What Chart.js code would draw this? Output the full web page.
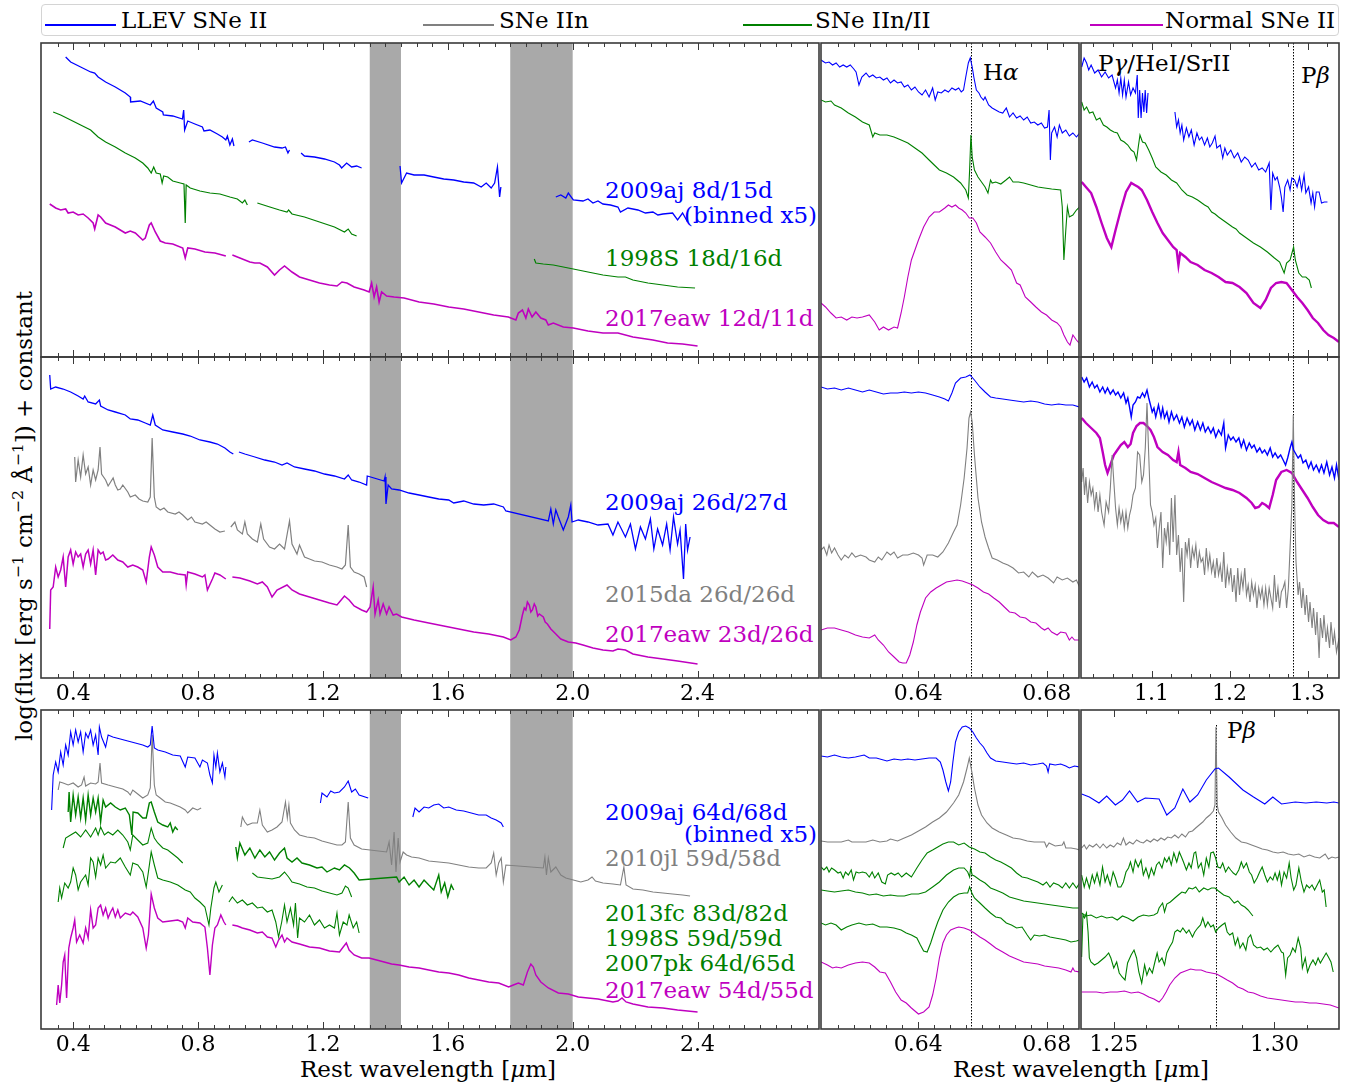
<!DOCTYPE html>
<html>
<head>
<meta charset="utf-8">
<title>Spectral comparison of LLEV SNe II</title>
<script src="https://cdn.jsdelivr.net/npm/chart.js@4.4.1/dist/chart.umd.min.js"></script>
<style>
  html, body { margin: 0; padding: 0; background: #fff; }
  body { position: relative; width: 1347px; height: 1084px; overflow: hidden;
         font-family: 'DejaVu Serif', serif; color: #000; }
  canvas { position: absolute; }
  .t { position: absolute; font-size: 23px; line-height: 1; white-space: nowrap; }
  .t sup { font-size: 0.68em; vertical-align: 0.55em; line-height: 0; }
  #legend { position: absolute; left: 41px; top: 4px; width: 1298px; height: 32px;
            border: 1px solid #d4d4d4; border-radius: 4px; box-sizing: border-box; }
  .lline { position: absolute; height: 2px; top: 19px; }
</style>
</head>
<body>
<div id="legend"></div>
<div class="t" style="left:24px;top:516px;transform:translate(-50%,-50%) rotate(-90deg);">log(flux [erg s<sup>−1</sup> cm<sup>−2</sup> Å<sup>−1</sup>]) + constant</div>
<div class="t" style="left:428px;top:1058px;transform:translateX(-50%);">Rest wavelength [<i>μ</i>m]</div>
<div class="t" style="left:1081px;top:1058px;transform:translateX(-50%);">Rest wavelength [<i>μ</i>m]</div>

<div class="t" style="left:983px;top:61px;">H<i>α</i></div>
<div class="t" style="left:1098px;top:52px;">P<i>γ</i>/HeI/SrII</div>
<div class="t" style="left:1301px;top:64px;">P<i>β</i></div>
<div class="t" style="left:1227px;top:719px;">P<i>β</i></div>

<div class="t" style="left:605px;top:179px;color:#0000ff;">2009aj 8d/15d</div>
<div class="t" style="right:530px;top:204px;color:#0000ff;">(binned x5)</div>
<div class="t" style="left:605px;top:247px;color:#008000;">1998S 18d/16d</div>
<div class="t" style="left:605px;top:307px;color:#bf00bf;">2017eaw 12d/11d</div>

<div class="t" style="left:605px;top:491px;color:#0000ff;">2009aj 26d/27d</div>
<div class="t" style="left:605px;top:583px;color:#808080;">2015da 26d/26d</div>
<div class="t" style="left:605px;top:623px;color:#bf00bf;">2017eaw 23d/26d</div>

<div class="t" style="left:605px;top:801px;color:#0000ff;">2009aj 64d/68d</div>
<div class="t" style="right:530px;top:823px;color:#0000ff;">(binned x5)</div>
<div class="t" style="left:605px;top:847px;color:#808080;">2010jl 59d/58d</div>
<div class="t" style="left:605px;top:902px;color:#008000;">2013fc 83d/82d</div>
<div class="t" style="left:605px;top:927px;color:#008000;">1998S 59d/59d</div>
<div class="t" style="left:605px;top:952px;color:#008000;">2007pk 64d/65d</div>
<div class="t" style="left:605px;top:979px;color:#bf00bf;">2017eaw 54d/55d</div>

<script>
// ---- colours / legend ------------------------------------------------------
const BLUE = '#0000ff', GRAY = '#808080', GREEN = '#008000', MAG = '#bf00bf';
const legendLabels = ['LLEV SNe II', 'SNe IIn', 'SNe IIn/II', 'Normal SNe II'];
const legendColors = [BLUE, GRAY, GREEN, MAG];

// ---- axis ticks --------------------------------------------------------------
const optMajor = [0.4, 0.8, 1.2, 1.6, 2.0, 2.4];
const optLabels = ['0.4', '0.8', '1.2', '1.6', '2.0', '2.4'];
const haMajor = [0.64, 0.68];
const haLabels = ['0.64', '0.68'];
const irMajor = [1.1, 1.2, 1.3];
const irLabels = ['1.1', '1.2', '1.3'];
const pbMajor = [1.25, 1.30];
const pbLabels = ['1.25', '1.30'];
const telluricBands = [[1.35, 1.45], [1.8, 2.0]];
const H_ALPHA = 0.6563, P_BETA = 1.2818;

// ---- row 1: 2009aj 8d, 1998S 18d, 2017eaw 12d ------------------------------
const r1L_aj = [[0.376,300],[0.392,295],[0.424,290],[0.456,285],[0.469,284],[0.48,280],[0.504,275],[0.535,270],[0.567,264],[0.583,260],[0.584,255],[0.615,256],[0.647,252],[0.657,256],[0.666,249],[0.687,245],[0.689,242],[0.719,241],[0.75,238],[0.754,247],[0.757,227],[0.767,236],[0.79,233],[0.814,230],[0.819,226],[0.838,227],[0.862,223],[0.878,220],[0.889,217],[0.894,221],[0.902,212],[0.91,218],[0.915,211],
  [0.94,null],[0.963,215],[0.974,217],[1.006,214],[1.045,210],[1.069,209],[1.08,210],[1.088,204],[1.093,207],
  [1.11,null],[1.13,204],[1.141,201],[1.173,200],[1.205,198],[1.237,195],[1.253,192],[1.26,189],[1.276,194],[1.292,190],[1.308,191],[1.324,189],
  [1.38,null],[1.447,191],[1.452,174],[1.468,184],[1.492,182],[1.524,182],[1.555,180],[1.587,178],[1.619,177],[1.651,175],[1.683,174],[1.707,170],[1.723,174],[1.739,169],[1.75,174],[1.759,190],[1.766,160],[1.77,170],
  [1.85,null],[1.946,160],[1.962,162],[1.978,159],[1.986,164],[2.002,157],[2.033,156],[2.049,158],[2.065,154],[2.081,156],[2.097,153],[2.121,152],[2.145,150],[2.153,145],[2.177,149],[2.209,147],[2.233,144],[2.257,145],[2.273,142],[2.289,143],[2.32,144],[2.336,137],[2.352,144],[2.368,135]];
const r1L_98S = [[0.336,245],[0.36,242],[0.392,237],[0.424,232],[0.456,227],[0.48,220],[0.504,215],[0.535,210],[0.567,204],[0.599,199],[0.623,194],[0.639,189],[0.65,184],[0.658,190],[0.666,184],[0.679,183],[0.685,174],[0.69,181],[0.703,180],[0.719,176],[0.743,174],[0.755,173],[0.759,134],[0.762,172],[0.775,169],[0.806,166],[0.838,164],[0.87,163],[0.902,160],[0.926,158],[0.942,154],[0.95,157],[0.958,152],
  [0.975,null],[0.99,154],[1.03,150],[1.061,147],[1.085,145],[1.09,147],[1.101,143],[1.141,140],[1.189,135],[1.237,130],[1.269,125],[1.281,128],[1.292,123],[1.308,121],
  [1.6,null],[1.877,98],[1.882,94],[1.906,93],[1.938,92],[1.97,90],[2.002,88],[2.049,85],[2.097,82],[2.145,80],[2.169,80],[2.193,77],[2.241,74],[2.289,72],[2.336,70],[2.392,69]];
const r1L_eaw = [[0.325,153],[0.344,149],[0.36,147],[0.376,148],[0.384,144],[0.4,145],[0.416,142],[0.432,143],[0.448,139],[0.464,134],[0.469,128],[0.48,142],[0.488,140],[0.504,134],[0.535,130],[0.567,124],[0.583,126],[0.599,124],[0.623,117],[0.631,119],[0.644,132],[0.65,134],[0.663,125],[0.679,116],[0.695,114],[0.719,113],[0.751,109],[0.759,99],[0.767,109],[0.79,108],[0.822,105],[0.854,104],[0.889,101],
  [0.9,null],[0.91,102],[0.934,99],[0.966,95],[0.982,94],[0.998,94],[1.022,90],[1.045,82],[1.061,87],[1.077,91],[1.101,85],[1.125,80],[1.157,77],[1.189,74],[1.221,72],[1.245,71],[1.261,75],[1.277,74],[1.3,70],[1.332,67],[1.348,65],[1.356,74],[1.364,60],[1.372,70],[1.38,55],[1.388,65],[1.404,61],[1.428,60],[1.46,59],[1.508,55],[1.555,53],[1.603,50],[1.651,48],[1.699,45],[1.747,42],[1.794,40],[1.818,37],[1.826,44],[1.839,47],[1.85,39],[1.858,48],[1.87,40],[1.882,45],[1.898,39],[1.914,37],[1.922,32],[1.938,34],[1.97,30],[2.002,29],[2.049,26],[2.097,24],[2.145,24],[2.193,20],[2.257,17],[2.304,14],[2.352,13],[2.4,11]];

const r1M_aj = [[0.6098,297],[0.6112,294],[0.6123,295],[0.6134,292],[0.6145,294],[0.6156,290],[0.6167,292],[0.6178,290],[0.6189,292],[0.62,288],[0.6207,285],[0.6216,272],[0.6225,280],[0.6238,284],[0.6248,280],[0.6259,282],[0.627,279],[0.6281,280],[0.6292,277],[0.6303,279],[0.6314,274],[0.6325,277],[0.6336,274],[0.6347,275],[0.6357,270],[0.6368,272],[0.6379,267],[0.639,270],[0.6401,265],[0.6412,262],[0.6423,267],[0.6434,260],[0.6445,269],[0.6453,257],[0.6461,265],[0.6472,264],[0.6483,267],[0.6494,265],[0.6505,269],[0.6516,267],[0.6526,269],[0.6534,265],[0.6541,267],[0.6548,280],[0.6556,294],[0.6562,299],[0.6568,290],[0.6573,280],[0.6581,267],[0.6589,264],[0.6595,260],[0.6603,257],[0.6608,260],[0.6619,252],[0.663,249],[0.6641,247],[0.6652,245],[0.6663,244],[0.6674,249],[0.6684,240],[0.6695,244],[0.6706,239],[0.6717,241],[0.6728,237],[0.6739,240],[0.675,234],[0.6761,235],[0.6772,232],[0.6783,234],[0.6793,229],[0.6802,230],[0.6807,247],[0.6811,197],[0.6815,224],[0.6824,230],[0.6832,220],[0.6839,232],[0.6848,224],[0.6859,227],[0.687,221],[0.6881,224],[0.6892,220],[0.6902,224]];
const r1M_98S = [[0.6098,257],[0.6112,255],[0.6129,256],[0.614,252],[0.6161,249],[0.6183,244],[0.6205,240],[0.6227,235],[0.6248,232],[0.6259,220],[0.6265,224],[0.6281,222],[0.6303,222],[0.6325,220],[0.6347,217],[0.6368,214],[0.639,209],[0.6412,204],[0.6434,197],[0.645,192],[0.6466,187],[0.6488,184],[0.651,180],[0.6532,174],[0.6548,167],[0.6556,159],[0.656,187],[0.6564,222],[0.6568,200],[0.6575,187],[0.6586,180],[0.6597,175],[0.6608,170],[0.6617,164],[0.6625,177],[0.663,174],[0.6641,175],[0.6657,173],[0.6673,177],[0.6684,180],[0.6695,175],[0.6712,175],[0.6728,174],[0.675,172],[0.6772,170],[0.6793,169],[0.6815,168],[0.6843,167],[0.6848,150],[0.6853,97],[0.6859,127],[0.6864,150],[0.687,140],[0.6881,142],[0.6892,147],[0.6902,150]];
const r1M_eaw = [[0.6098,54],[0.6112,50],[0.6129,44],[0.6145,39],[0.6161,40],[0.6178,37],[0.6194,40],[0.621,39],[0.6227,40],[0.6248,42],[0.6265,35],[0.6279,27],[0.6292,30],[0.6308,27],[0.6325,30],[0.6336,29],[0.6347,44],[0.6357,60],[0.6368,80],[0.6379,97],[0.639,107],[0.6401,117],[0.6417,130],[0.6434,140],[0.645,145],[0.6466,145],[0.6483,149],[0.6494,152],[0.6505,150],[0.6516,152],[0.6526,149],[0.6537,147],[0.6548,144],[0.6559,139],[0.657,139],[0.6581,134],[0.6592,125],[0.6608,120],[0.6625,114],[0.6641,105],[0.6657,97],[0.6674,92],[0.669,87],[0.6706,74],[0.6717,72],[0.6733,60],[0.675,55],[0.6766,50],[0.6783,45],[0.6799,42],[0.6815,37],[0.6832,34],[0.6843,30],[0.6853,22],[0.6864,15],[0.6872,12],[0.6881,22],[0.6892,17],[0.69,14]];

const r1R_aj = [[1.0105,290],[1.0136,299],[1.0168,294],[1.0195,287],[1.0226,292],[1.0271,284],[1.0315,287],[1.036,280],[1.0405,285],[1.045,279],[1.0494,282],[1.0539,269],[1.0562,277],[1.0584,264],[1.0606,279],[1.0629,262],[1.0651,277],[1.0673,260],[1.0705,275],[1.0732,262],[1.0763,269],[1.0794,264],[1.0817,282],[1.083,239],[1.0848,267],[1.0866,239],[1.0884,264],[1.0902,245],[1.0919,267],[1.0937,244],[1.0955,264],
  [1.11,null],[1.13,245],[1.1322,230],[1.1345,237],[1.1367,224],[1.1389,232],[1.1412,217],[1.1447,229],[1.1479,220],[1.151,227],[1.1546,212],[1.1582,224],[1.1613,217],[1.1644,220],[1.168,212],[1.1716,219],[1.1747,210],[1.1779,214],[1.1814,221],[1.1837,209],[1.1881,212],[1.1913,199],[1.194,209],[1.1971,202],[1.2016,207],[1.206,199],[1.2105,204],[1.215,195],[1.2195,200],[1.2239,197],[1.2284,190],[1.2329,194],[1.2374,187],[1.2418,189],[1.2463,185],[1.2508,194],[1.253,147],[1.2553,184],[1.2584,177],[1.2611,180],[1.2642,170],[1.2664,160],[1.2687,145],[1.2709,170],[1.2745,177],[1.2776,167],[1.2799,179],[1.2834,177],[1.2866,170],[1.2897,180],[1.2924,167],[1.2955,182],[1.2978,164],[1.3013,170],[1.3045,154],[1.3067,164],[1.309,150],[1.3112,165],[1.3148,165],[1.3179,154],[1.3215,155],[1.3255,155]];
const r1R_98S = [[1.0105,255],[1.0136,247],[1.0168,250],[1.0204,244],[1.0248,245],[1.0293,237],[1.0338,239],[1.0383,232],[1.0427,230],[1.0472,227],[1.0517,225],[1.0562,224],[1.0606,217],[1.0651,215],[1.0696,212],[1.074,207],[1.0776,205],[1.0808,197],[1.083,210],[1.0852,222],[1.0884,215],[1.0919,214],[1.0964,207],[1.1009,199],[1.1054,190],[1.1121,185],[1.1188,182],[1.1255,177],[1.1322,174],[1.1389,167],[1.1456,162],[1.1523,160],[1.1591,157],[1.168,152],[1.1725,150],[1.177,145],[1.1814,143],[1.1859,140],[1.1949,135],[1.2038,130],[1.2083,128],[1.2128,124],[1.2217,119],[1.2306,114],[1.2396,110],[1.2485,105],[1.2575,99],[1.2642,95],[1.27,84],[1.2731,94],[1.2776,97],[1.2821,110],[1.2843,97],[1.2888,84],[1.2933,80],[1.2978,80],[1.3022,77],[1.3049,69]];
const r1R_eaw = [[1.0105,175],[1.0159,170],[1.0226,164],[1.0293,150],[1.036,134],[1.0427,119],[1.0485,110],[1.0539,127],[1.0606,147],[1.0673,165],[1.074,174],[1.0785,172],[1.083,170],[1.0875,167],[1.0942,157],[1.1009,145],[1.1076,134],[1.1143,124],[1.121,117],[1.1277,110],[1.1322,107],[1.1345,92],[1.1367,104],[1.1434,100],[1.1501,95],[1.1591,92],[1.168,87],[1.177,84],[1.1859,80],[1.1949,75],[1.2038,74],[1.2128,70],[1.2217,64],[1.2306,54],[1.2396,49],[1.2463,57],[1.253,69],[1.2597,74],[1.2664,75],[1.2731,74],[1.2799,67],[1.2866,60],[1.2933,54],[1.3,47],[1.3067,39],[1.3134,34],[1.3201,27],[1.3268,22],[1.3336,19],[1.3403,15]];

// ---- row 2: 2009aj 26d, 2015da 26d, 2017eaw 23d ----------------------------
const r2L_aj = [[0.325,303],[0.328,289],[0.344,291],[0.368,289],[0.392,286],[0.416,282],[0.432,279],[0.437,282],[0.448,276],[0.472,274],[0.484,278],[0.488,272],[0.512,268],[0.535,266],[0.567,263],[0.583,259],[0.607,258],[0.631,255],[0.647,253],[0.655,263],[0.663,253],[0.687,248],[0.719,246],[0.751,244],[0.775,242],[0.806,238],[0.838,236],[0.862,234],[0.886,230],[0.902,226],[0.913,224],
  [0.92,null],[0.931,226],[0.95,224],[0.982,221],[1.014,218],[1.045,216],[1.069,213],[1.085,215],[1.109,211],[1.141,209],[1.173,207],[1.205,204],[1.237,202],[1.269,199],[1.281,203],[1.292,198],[1.316,196],[1.34,193],[1.342,202],[1.396,197],[1.399,201],[1.402,174],[1.409,193],[1.42,189],[1.444,188],[1.476,185],[1.508,183],[1.539,181],[1.571,179],[1.603,178],[1.619,175],[1.651,177],[1.683,174],[1.715,173],[1.747,174],[1.778,171],[1.786,167],[1.922,157],[1.93,169],[1.938,154],[1.946,168],[1.954,161],[1.97,148],[1.986,161],[1.994,173],[1.998,156],[2.018,158],[2.049,156],[2.081,153],[2.113,154],[2.129,143],[2.145,156],[2.169,141],[2.185,154],[2.201,129],[2.217,151],[2.233,139],[2.249,159],[2.26,129],[2.272,149],[2.288,133],[2.301,154],[2.312,128],[2.323,161],[2.336,134],[2.344,148],[2.355,99],[2.362,154],[2.368,128],[2.376,141]];
const r2L_da = [[0.405,221],[0.408,196],[0.416,218],[0.424,201],[0.432,223],[0.44,204],[0.448,211],[0.456,193],[0.464,208],[0.472,198],[0.48,208],[0.486,231],[0.491,204],[0.504,198],[0.512,192],[0.52,196],[0.528,200],[0.535,193],[0.543,188],[0.551,189],[0.559,193],[0.575,186],[0.583,181],[0.599,183],[0.611,179],[0.623,177],[0.639,176],[0.647,181],[0.653,240],[0.66,181],[0.666,171],[0.679,168],[0.691,170],[0.703,166],[0.727,164],[0.739,166],[0.751,163],[0.767,158],[0.779,161],[0.79,156],[0.814,154],[0.826,156],[0.838,153],[0.854,149],[0.87,146],[0.886,147],
  [0.895,null],[0.905,151],[0.918,156],[0.926,148],[0.942,144],[0.95,156],[0.958,144],[0.974,139],[0.99,136],[1.001,154],[1.01,139],[1.029,131],[1.045,129],[1.061,134],[1.077,129],[1.093,157],[1.101,134],[1.117,124],[1.125,133],[1.141,121],[1.157,119],[1.173,117],[1.197,116],[1.221,113],[1.245,111],[1.261,109],[1.272,113],[1.281,153],[1.288,111],[1.3,106],[1.316,104],[1.332,101],[1.34,91]];
const r2L_eaw = [[0.325,49],[0.328,88],[0.336,91],[0.344,111],[0.352,101],[0.36,108],[0.368,121],[0.376,91],[0.384,121],[0.392,128],[0.4,114],[0.408,126],[0.416,121],[0.424,124],[0.432,111],[0.44,124],[0.448,128],[0.456,114],[0.464,128],[0.472,103],[0.48,128],[0.488,124],[0.496,126],[0.504,118],[0.512,119],[0.527,123],[0.543,118],[0.559,116],[0.575,111],[0.591,113],[0.607,111],[0.623,108],[0.634,96],[0.644,121],[0.65,131],[0.66,123],[0.671,111],[0.687,106],[0.711,106],[0.735,104],[0.759,103],[0.762,93],[0.767,106],[0.79,104],[0.814,101],[0.822,103],[0.83,88],[0.846,99],[0.854,105],[0.87,103],[0.889,99],
  [0.9,null],[0.91,101],[0.934,100],[0.966,97],[0.99,94],[1.006,96],[1.022,91],[1.037,81],[1.053,88],[1.085,93],[1.101,88],[1.125,84],[1.157,81],[1.189,78],[1.221,75],[1.245,73],[1.253,76],[1.269,82],[1.284,78],[1.3,72],[1.324,68],[1.34,66],[1.351,71],[1.361,91],[1.367,64],[1.377,78],[1.383,64],[1.393,74],[1.404,64],[1.412,71],[1.425,63],[1.436,64],[1.452,61],[1.492,58],[1.539,55],[1.587,52],[1.635,49],[1.683,46],[1.731,44],[1.778,41],[1.802,38],[1.818,41],[1.829,48],[1.839,63],[1.845,70],[1.85,68],[1.855,76],[1.861,73],[1.866,66],[1.871,68],[1.877,74],[1.882,71],[1.888,62],[1.893,64],[1.906,61],[1.912,56],[1.919,54],[1.93,49],[1.946,44],[1.962,39],[1.986,36],[2.01,35],[2.033,33],[2.065,30],[2.097,28],[2.129,27],[2.145,29],[2.169,28],[2.193,24],[2.241,21],[2.289,19],[2.336,17],[2.4,14]];

const r2M_aj = [[0.6098,291],[0.6118,289],[0.614,290],[0.6161,288],[0.6183,290],[0.6205,288],[0.6227,286],[0.6248,288],[0.627,286],[0.6292,284],[0.6314,285],[0.6336,285],[0.6357,286],[0.6379,285],[0.6401,286],[0.6423,285],[0.6445,283],[0.6466,281],[0.6483,279],[0.6494,277],[0.6505,285],[0.6516,295],[0.6532,300],[0.6548,301],[0.6561,303],[0.6575,298],[0.6592,291],[0.6608,286],[0.6625,281],[0.6641,280],[0.6663,279],[0.6684,278],[0.6706,277],[0.6728,276],[0.675,277],[0.6772,276],[0.6793,274],[0.6815,273],[0.6837,274],[0.6859,273],[0.6881,273],[0.6902,271]];
const r2M_da_wl = [0.6098,0.6107,0.6116,0.6123,0.6131,0.614,0.6151,0.6161,0.6172,0.6183,0.6194,0.6205,0.6221,0.6238,0.6248,0.6265,0.6276,0.6287,0.6303,0.6314,0.6325,0.6336,0.6352,0.6368,0.6385,0.6401,0.6412,0.6417,0.6428,0.6445,0.6461,0.6477,0.6494,0.651,0.6521,0.6532,0.6543,0.6552,0.6558,0.6563,0.6568,0.6575,0.6586,0.6597,0.6608,0.6619,0.663,0.6646,0.6663,0.6679,0.6695,0.6712,0.6728,0.6744,0.6755,0.6772,0.6788,0.6804,0.6821,0.6832,0.6848,0.6864,0.6881,0.6892,0.6902];
const r2M_da_fx = [128,131,123,133,125,130,123,118,123,120,125,121,123,121,118,116,121,118,126,123,126,120,123,123,125,123,120,113,123,123,121,126,135,146,153,173,200,230,260,266,256,223,180,156,141,130,120,118,115,113,110,105,106,101,106,101,103,100,95,101,98,100,96,98,91];
const r2M_eaw_wl = [0.6098,0.6118,0.614,0.6161,0.6183,0.6205,0.6227,0.6248,0.6265,0.6276,0.6292,0.6308,0.6325,0.6341,0.6352,0.6363,0.6374,0.6385,0.6396,0.6407,0.6423,0.6439,0.6456,0.6472,0.6488,0.6505,0.6521,0.6537,0.6554,0.657,0.6586,0.6603,0.6619,0.6635,0.6652,0.6668,0.6684,0.6701,0.6717,0.6734,0.675,0.6766,0.6783,0.6793,0.6804,0.6815,0.6832,0.6843,0.6859,0.687,0.6878,0.6886,0.6902];
const r2M_eaw_fx = [48,50,50,48,46,43,41,40,43,38,33,26,21,16,15,15,23,36,53,66,80,86,90,93,96,97,98,97,95,93,90,86,84,80,76,71,66,65,61,60,56,55,50,48,50,46,43,46,45,38,41,38,38];

const r2R_aj_wl = [1.0105,1.0136,1.0168,1.0204,1.0239,1.0271,1.0302,1.0338,1.0374,1.0405,1.0436,1.0472,1.0508,1.0539,1.057,1.0606,1.0642,1.0673,1.0696,1.0718,1.074,1.0763,1.0794,1.0821,1.0852,1.0884,1.0911,1.0942,1.0964,1.0987,1.1009,1.1031,1.1054,1.1089,1.1121,1.1143,1.1166,1.1197,1.1224,1.1255,1.1286,1.1322,1.1358,1.1389,1.1421,1.1456,1.1492,1.1523,1.1555,1.1591,1.1626,1.1658,1.1689,1.1725,1.1761,1.1792,1.1823,1.1859,1.1895,1.1926,1.1949,1.1984,1.2016,1.2047,1.2083,1.2119,1.215,1.2181,1.2217,1.2253,1.2284,1.2315,1.2351,1.2387,1.2418,1.245,1.2485,1.2521,1.2553,1.2584,1.262,1.2655,1.2687,1.2718,1.2745,1.2776,1.2799,1.2821,1.2843,1.2879,1.2911,1.2942,1.2978,1.3013,1.3045,1.3076,1.3112,1.3148,1.3179,1.321,1.3246,1.3282,1.3313,1.3345,1.3371,1.3403];
const r2R_aj_fx = [301,296,300,291,296,290,293,286,291,285,290,284,288,283,286,280,285,275,280,271,261,273,276,281,280,285,281,288,280,273,266,270,261,273,261,270,260,266,256,266,258,263,255,261,251,260,253,258,248,256,248,255,246,251,245,250,241,248,243,255,230,243,238,241,236,240,231,238,228,235,230,233,226,230,225,228,223,230,221,225,220,223,218,213,220,230,236,228,225,220,223,215,218,210,216,208,213,206,213,205,216,203,211,200,213,198];
const r2R_da = [[1.0105,196],[1.0123,210],[1.0141,183],[1.0159,201],[1.0181,175],[1.0204,196],[1.0226,183],[1.0248,190],[1.0271,171],[1.0293,186],[1.0315,166],[1.0338,183],[1.036,166],[1.0392,153],[1.0418,176],[1.045,166],[1.0472,190],[1.0495,223],[1.0517,196],[1.0539,170],[1.0562,153],[1.0584,170],[1.0606,156],[1.0629,166],[1.0651,150],[1.0673,166],[1.0696,150],[1.0718,163],[1.074,170],[1.0763,183],[1.0794,190],[1.0821,226],[1.0848,223],[1.0875,196],[1.0897,203],[1.092,230],[1.0942,275],[1.0964,223],[1.0987,173],[1.1009,166],[1.1031,153],[1.1054,160],[1.1076,130],[1.1099,150],[1.1121,166],[1.1143,110],[1.1166,150],[1.1188,136],[1.121,156],[1.1233,123],[1.1255,180],[1.1277,136],[1.13,183],[1.1322,123],[1.1345,143],[1.1367,106],[1.1389,130],[1.1412,76],[1.1434,136],[1.1456,123],[1.1479,140],[1.1501,110],[1.1523,130],[1.1546,120],[1.1568,133],[1.1591,110],[1.1613,126],[1.1635,116],[1.1658,120],[1.168,103],[1.1702,130],[1.1725,110],[1.1747,123],[1.177,106],[1.1792,116],[1.1814,100],[1.1837,120],[1.1859,103],[1.1881,113],[1.1904,96],[1.1926,126],[1.1949,90],[1.1971,110],[1.1993,96],[1.2016,110],[1.2038,86],[1.206,103],[1.2083,76],[1.2105,110],[1.2128,83],[1.215,103],[1.2172,90],[1.2195,110],[1.2217,83],[1.2239,93],[1.2262,76],[1.2284,96],[1.2306,83],[1.2329,93],[1.2351,70],[1.2374,90],[1.2396,80],[1.2418,90],[1.2441,73],[1.2463,90],[1.2485,73],[1.2508,90],[1.253,80],[1.2553,70],[1.2575,103],[1.2597,76],[1.262,90],[1.2642,70],[1.2664,86],[1.2687,90],[1.2709,96],[1.2731,70],[1.2754,90],[1.2776,130],[1.2799,173],[1.2817,263],[1.2834,173],[1.2852,116],[1.2879,83],[1.2897,96],[1.2924,70],[1.2942,90],[1.2969,63],[1.2987,83],[1.3013,56],[1.3031,76],[1.3058,50],[1.3076,70],[1.3103,43],[1.3121,66],[1.3148,20],[1.3165,60],[1.3192,40],[1.321,63],[1.3237,36],[1.3255,50],[1.3282,30],[1.33,56],[1.3327,33],[1.3345,46],[1.3371,26],[1.3403,40]];
const r2R_eaw_wl = [1.0105,1.0159,1.0226,1.0293,1.0338,1.0374,1.0405,1.0436,1.0472,1.0517,1.0562,1.0606,1.0651,1.0696,1.0732,1.0763,1.0808,1.0852,1.0897,1.0942,1.0987,1.1031,1.1076,1.1143,1.121,1.1277,1.1322,1.1345,1.1367,1.1434,1.1501,1.1591,1.168,1.177,1.1859,1.1949,1.2038,1.2128,1.2217,1.2284,1.2329,1.2374,1.2418,1.2463,1.2508,1.2553,1.2597,1.2664,1.2731,1.2799,1.2866,1.2933,1.3,1.3067,1.3134,1.3201,1.3268,1.3336,1.3403];
const r2R_eaw_fx = [260,255,250,245,240,226,213,205,213,223,228,233,236,231,234,245,252,255,255,252,248,241,231,226,223,218,216,226,213,210,206,204,200,196,193,190,188,185,180,175,170,171,175,173,170,183,198,206,208,205,196,188,180,171,163,158,155,155,151];

// ---- row 3: 2009aj 64d, 2010jl 59d, 2013fc 83d, 1998S 59d, 2007pk 64d, 2017eaw 54d
const r3L_aj_wl = [0.331,0.336,0.344,0.352,0.36,0.368,0.376,0.384,0.392,0.4,0.408,0.416,0.424,0.432,0.44,0.448,0.456,0.464,0.472,0.48,0.484,0.491,0.504,0.512,0.527,0.551,0.575,0.599,0.623,0.639,0.647,0.653,0.66,0.671,0.695,0.719,0.743,0.759,0.767,0.79,0.806,0.814,0.83,0.838,0.846,0.851,0.857,0.862,0.87,0.878,0.886,0.889,
  1.0,1.192,1.197,1.213,1.225,1.237,1.253,1.269,1.281,1.292,1.304,1.316,1.345,
  1.4,1.488,1.495,1.508,1.524,1.539,1.555,1.571,1.587,1.603,1.627,1.651,1.675,1.699,1.723,1.739,1.755,1.771,1.778];
const r3L_aj_fx = [219,254,267,257,277,264,284,274,297,284,299,287,297,277,296,291,299,284,294,274,302,292,282,294,292,290,288,286,284,282,284,303,281,279,277,274,273,262,272,271,262,269,266,254,246,274,262,276,257,266,252,262,
  null,226,236,232,238,236,237,242,248,237,240,234,231,
  null,212,221,217,222,221,224,225,221,222,219,218,216,214,214,211,209,206,202];
const r3L_jl_wl = [0.352,0.357,0.368,0.384,0.4,0.416,0.427,0.435,0.44,0.456,0.472,0.48,0.486,0.491,0.512,0.535,0.559,0.575,0.583,0.591,0.607,0.623,0.639,0.647,0.653,0.66,0.666,0.679,0.695,0.711,0.727,0.743,0.759,0.767,0.783,0.798,0.81,
  0.9,0.937,0.942,0.95,0.958,0.974,0.99,0.998,1.006,1.022,1.037,1.053,1.069,1.08,1.086,1.091,1.096,1.109,1.125,1.149,1.173,1.197,1.221,1.245,1.261,1.272,1.281,1.288,1.3,1.324,1.404,1.412,1.42,1.428,1.434,1.441,1.447,1.457,1.468,1.484,1.508,1.539,1.571,1.603,1.635,1.667,1.699,1.723,1.739,1.747,1.755,1.763,1.771,1.778,1.786,1.906,1.911,1.916,1.922,1.93,1.946,1.962,1.978,2.002,2.026,2.049,2.062,2.073,2.097,2.129,2.153,2.164,2.171,2.193,2.225,2.257,2.289,2.32,2.352,2.376];
const r3L_jl_fx = [239,247,246,244,246,242,244,252,243,246,245,247,266,246,244,242,240,237,234,239,235,231,234,241,294,244,234,231,227,226,224,222,219,216,221,219,221,
  null,202,212,207,204,206,206,219,204,197,199,202,207,227,211,224,206,199,194,192,191,188,186,184,184,187,227,191,184,180,177,187,164,197,157,191,167,177,174,172,171,168,167,166,164,162,161,161,166,176,154,166,171,147,164,161,172,154,171,157,162,154,151,149,147,149,152,148,146,145,144,162,144,140,139,137,136,135,134,133];
const r3L_fc_wl = [0.384,0.387,0.392,0.4,0.408,0.416,0.424,0.432,0.44,0.448,0.456,0.464,0.472,0.48,0.488,0.496,0.504,0.52,0.535,0.551,0.567,0.58,0.588,0.592,0.607,0.623,0.634,0.644,0.65,0.66,0.671,0.687,0.703,0.711,0.719,0.727,0.735,
  0.8,0.921,0.926,0.934,0.95,0.966,0.982,0.998,1.014,1.029,1.045,1.061,1.077,1.085,1.101,1.117,1.133,1.157,1.181,1.197,1.213,1.237,1.253,1.269,1.285,1.3,1.316,1.436,1.444,1.46,1.476,1.492,1.508,1.524,1.539,1.555,1.571,1.579,1.59,1.6,1.611,1.619];
const r3L_fc_fx = [217,237,207,234,214,232,211,231,209,234,214,231,217,231,207,229,222,226,222,219,221,214,194,217,216,211,211,226,227,217,207,204,202,206,197,202,199,
  null,182,171,186,174,181,171,179,172,177,169,176,181,171,167,171,166,164,161,162,157,161,159,164,161,156,149,152,147,152,144,149,142,149,144,139,154,137,146,132,144,139];
const r3L_98S_wl = [0.368,0.376,0.392,0.408,0.424,0.44,0.456,0.472,0.48,0.488,0.5,0.512,0.527,0.543,0.559,0.575,0.583,0.591,0.607,0.623,0.639,0.65,0.66,0.671,0.687,0.703,0.719,0.735,0.751,
  0.85,0.974,0.99,1.014,1.037,1.061,1.077,1.09,1.101,1.125,1.149,1.173,1.197,1.221,1.245,1.261,1.272,1.281,1.292];
const r3L_98S_fx = [181,191,194,197,192,199,192,201,194,202,194,197,194,199,194,187,179,194,189,184,186,201,191,186,181,179,175,171,166,
  null,156,152,151,150,152,157,152,147,145,142,141,138,136,134,136,143,141,132];
const r3L_pk_wl = [0.352,0.357,0.363,0.373,0.384,0.392,0.4,0.408,0.416,0.424,0.44,0.448,0.456,0.464,0.472,0.48,0.488,0.496,0.504,0.52,0.535,0.551,0.567,0.583,0.591,0.607,0.623,0.634,0.641,0.65,0.66,0.671,0.687,0.711,0.735,0.759,0.775,0.79,0.806,0.822,0.835,0.841,0.851,0.857,0.867,0.878,
  0.89,0.899,0.91,0.926,0.942,0.958,0.974,0.99,1.006,1.022,1.037,1.049,1.058,1.068,1.077,1.085,1.096,1.106,1.112,1.119,1.125,1.141,1.157,1.173,1.189,1.205,1.221,1.237,1.245,1.253,1.265,1.277,1.284,1.297,1.308,1.316];
const r3L_pk_fx = [127,141,131,146,141,147,161,154,139,147,154,144,171,167,152,171,164,174,161,167,166,171,162,154,166,164,157,142,157,177,164,151,149,147,144,139,137,131,127,122,104,121,141,147,137,144,
  null,127,132,126,129,124,126,121,122,117,119,107,92,107,124,107,121,104,126,91,111,107,114,104,109,101,104,101,116,94,107,104,114,101,107,96];
const r3L_eaw_wl = [0.347,0.352,0.357,0.363,0.368,0.373,0.379,0.386,0.392,0.4,0.405,0.411,0.421,0.432,0.44,0.448,0.456,0.464,0.472,0.48,0.488,0.496,0.504,0.512,0.52,0.527,0.535,0.543,0.551,0.567,0.583,0.591,0.607,0.623,0.634,0.641,0.65,0.66,0.671,0.687,0.711,0.735,0.751,0.759,0.767,0.783,0.806,0.822,0.83,0.838,0.846,0.854,0.862,0.873,0.883,0.889,
  0.9,0.91,0.926,0.942,0.966,0.99,1.006,1.022,1.037,1.049,1.058,1.069,1.077,1.085,1.101,1.125,1.157,1.189,1.221,1.253,1.265,1.275,1.284,1.3,1.324,1.348,1.372,1.396,1.42,1.444,1.476,1.508,1.539,1.571,1.603,1.635,1.667,1.699,1.731,1.763,1.795,1.81,1.826,1.842,1.855,1.866,1.874,1.882,1.898,1.922,1.954,1.986,2.018,2.049,2.081,2.129,2.145,2.158,2.171,2.193,2.241,2.289,2.336,2.4];
const r3L_eaw_fx = [24,44,26,44,67,74,31,81,91,101,109,87,94,86,101,91,119,101,104,121,124,114,121,111,117,121,112,119,111,116,114,117,112,101,81,94,135,121,111,107,108,109,107,101,111,107,106,102,81,54,84,101,104,114,107,104,
  null,104,103,101,99,96,97,92,91,82,89,94,87,91,87,85,82,81,78,77,82,86,79,74,71,71,69,67,65,64,62,61,59,57,56,54,51,49,47,46,42,44,46,44,57,65,62,54,47,41,36,35,32,31,30,27,28,31,27,25,22,21,19,17];

const r3M_aj_wl = [0.6098,0.6118,0.614,0.6161,0.6183,0.6205,0.6232,0.6248,0.627,0.6303,0.6325,0.6347,0.6368,0.639,0.6412,0.6434,0.6456,0.6469,0.6477,0.6486,0.6494,0.6501,0.6508,0.6516,0.6526,0.6537,0.6548,0.6559,0.657,0.6581,0.6592,0.6603,0.6614,0.6625,0.6641,0.6663,0.6684,0.6706,0.6728,0.675,0.6772,0.6788,0.6799,0.6804,0.6809,0.6826,0.6843,0.6859,0.687,0.6886,0.6902];
const r3M_aj_fx = [273,272,274,272,271,272,274,271,271,268,270,269,270,269,270,271,271,267,259,247,238,247,267,287,297,302,303,301,297,291,286,282,276,271,268,267,266,265,266,264,265,266,263,257,265,264,265,263,261,263,262];
const r3M_jl_wl = [0.6098,0.6118,0.614,0.6161,0.6183,0.6194,0.6216,0.6238,0.6259,0.6281,0.6303,0.6314,0.6336,0.6357,0.6379,0.6401,0.6423,0.6445,0.6466,0.6488,0.651,0.6526,0.6541,0.6552,0.6559,0.6567,0.6575,0.6586,0.6597,0.6614,0.663,0.6652,0.6674,0.6695,0.6717,0.6739,0.6761,0.6783,0.6793,0.6799,0.6807,0.6826,0.6848,0.6853,0.6859,0.6875,0.6892,0.6902];
const r3M_jl_fx = [188,187,187,187,189,187,187,187,189,187,188,190,188,191,194,198,202,207,211,217,226,234,247,261,271,257,241,224,214,206,201,197,194,191,190,188,187,187,187,182,186,183,184,187,181,181,180,179];
const r3M_fc_wl = [0.6098,0.6107,0.6116,0.6123,0.6131,0.614,0.6151,0.6159,0.6167,0.6174,0.6183,0.6192,0.6199,0.6207,0.6216,0.6227,0.6238,0.6248,0.6257,0.6265,0.6276,0.6287,0.6298,0.6305,0.6316,0.6327,0.6338,0.6349,0.6363,0.6379,0.6396,0.6412,0.6428,0.6445,0.6461,0.6477,0.6494,0.651,0.6526,0.6543,0.6559,0.6575,0.6592,0.6608,0.6625,0.6641,0.6657,0.6674,0.669,0.6706,0.6723,0.6739,0.6755,0.6772,0.6788,0.6799,0.681,0.6821,0.6837,0.6848,0.6859,0.687,0.6881,0.6892,0.6902];
const r3M_fc_fx = [162,159,162,157,161,159,156,157,151,157,154,159,149,157,156,157,156,152,157,151,156,147,145,154,156,154,156,152,156,152,161,169,176,179,182,185,187,187,184,186,182,180,177,176,172,169,167,164,161,156,152,151,149,147,144,147,142,146,144,141,146,141,146,141,146];
const r3M_98S_wl = [0.6098,0.6118,0.614,0.6161,0.6183,0.6205,0.6227,0.6248,0.627,0.6292,0.6314,0.6336,0.6357,0.6379,0.6401,0.6423,0.6445,0.6466,0.6488,0.651,0.6526,0.6543,0.6554,0.656,0.6563,0.6568,0.6575,0.6592,0.6608,0.6625,0.6641,0.6663,0.6684,0.6706,0.6728,0.675,0.6772,0.6793,0.6815,0.6837,0.6859,0.6881,0.6902];
const r3M_98S_fx = [139,138,137,138,139,137,136,134,135,133,134,133,133,135,135,137,142,147,154,159,161,161,157,152,161,154,153,149,146,141,139,136,132,130,128,127,126,125,124,123,122,121,121];
const r3M_pk_wl = [0.6098,0.6112,0.6129,0.6145,0.6161,0.6178,0.6194,0.6216,0.6238,0.6259,0.6281,0.6303,0.6325,0.6347,0.6363,0.6379,0.6396,0.6407,0.6417,0.6428,0.6439,0.645,0.6461,0.6477,0.6494,0.651,0.6526,0.6543,0.6554,0.656,0.6567,0.6575,0.6592,0.6608,0.6625,0.6641,0.6657,0.6674,0.669,0.6706,0.6723,0.6739,0.675,0.6761,0.6777,0.6793,0.681,0.6826,0.6843,0.6859,0.6875,0.6892,0.6902];
const r3M_pk_fx = [106,104,106,104,99,102,104,106,104,105,102,102,101,99,96,94,91,84,78,77,86,97,107,119,127,132,135,136,136,142,136,131,126,121,116,112,111,106,104,101,102,94,89,94,93,94,92,91,90,89,87,88,89];
const r3M_eaw_wl = [0.6098,0.6118,0.6134,0.6145,0.6161,0.6183,0.6205,0.6227,0.6248,0.6265,0.6281,0.6298,0.6314,0.633,0.6347,0.6363,0.6379,0.6401,0.6417,0.6434,0.6445,0.6456,0.6466,0.6477,0.6488,0.6501,0.6516,0.6526,0.6543,0.6559,0.6575,0.6592,0.6608,0.6625,0.6641,0.6663,0.6684,0.6706,0.6728,0.675,0.6772,0.6793,0.6815,0.6837,0.6859,0.6875,0.6881,0.6886,0.6902];
const r3M_eaw_fx = [67,64,61,62,61,64,66,67,66,62,57,56,47,37,29,26,21,15,17,22,34,51,71,86,94,99,101,102,101,99,96,92,89,85,81,77,73,70,67,66,65,63,62,61,59,57,61,58,57];

const r3R_aj = [[1.24,235],[1.2424,232],[1.2454,226],[1.2478,233],[1.2505,224],[1.2527,229],[1.2549,238],[1.2574,227],[1.2598,231],[1.2641,230],[1.2665,214],[1.269,221],[1.2715,240],[1.2737,227],[1.2761,234],[1.2788,249],[1.2815,260],[1.2826,261],[1.2859,252],[1.2902,239],[1.2935,232],[1.297,225],[1.2995,232],[1.3022,225],[1.3065,227],[1.3098,226],[1.313,227],[1.3163,226],[1.3185,227],[1.3201,226]];
const r3R_jl_wl = [1.24,1.2408,1.2415,1.2424,1.2435,1.2446,1.2457,1.2467,1.2478,1.2489,1.25,1.2511,1.2522,1.253,1.2538,1.2549,1.256,1.2571,1.2582,1.2592,1.2603,1.2614,1.2625,1.2636,1.2647,1.2658,1.2668,1.2679,1.269,1.2701,1.2712,1.2723,1.2734,1.2745,1.2755,1.2766,1.2777,1.2788,1.2799,1.281,1.2815,1.2818,1.2822,1.2826,1.2837,1.2848,1.2864,1.288,1.2897,1.2913,1.2929,1.2946,1.2962,1.2978,1.2995,1.3011,1.3027,1.3043,1.306,1.3076,1.3092,1.3109,1.3125,1.3141,1.3158,1.3168,1.3179,1.319,1.3201];
const r3R_jl_fx = [181,184,180,184,182,185,181,185,181,184,182,186,184,191,184,187,185,189,187,186,189,187,190,188,191,189,192,191,194,191,195,192,197,198,201,204,207,211,214,218,224,302,224,217,211,204,197,191,187,186,184,182,180,179,177,176,177,175,174,175,172,174,172,171,175,170,172,171,172];
const r3R_fc = [[1.24,154],[1.2408,142],[1.2415,151],[1.2424,141],[1.2433,154],[1.244,146],[1.2448,156],[1.2457,144],[1.2465,162],[1.2473,147],[1.248,154],[1.2489,144],[1.2498,157],[1.2505,151],[1.2513,142],[1.2522,142],[1.253,147],[1.2538,157],[1.2546,161],[1.2552,167],[1.256,157],[1.2567,169],[1.2576,162],[1.2585,169],[1.2592,154],[1.26,161],[1.2609,151],[1.2617,161],[1.2625,154],[1.2633,164],[1.2641,167],[1.265,161],[1.2658,171],[1.2665,167],[1.2672,172],[1.2679,164],[1.2687,176],[1.2696,167],[1.2704,177],[1.2712,171],[1.2717,167],[1.2726,159],[1.2734,166],[1.2741,161],[1.275,176],[1.2755,177],[1.2763,161],[1.2772,166],[1.278,154],[1.2788,171],[1.2796,162],[1.2802,176],[1.281,177],[1.2817,171],[1.2824,162],[1.2832,161],[1.2839,166],[1.2848,157],[1.2857,162],[1.2864,159],[1.2872,156],[1.288,154],[1.2889,159],[1.2897,167],[1.2904,161],[1.2913,166],[1.2922,157],[1.2929,154],[1.2937,146],[1.2946,151],[1.2954,157],[1.2962,162],[1.297,154],[1.2978,147],[1.2987,152],[1.2995,149],[1.3002,156],[1.3009,149],[1.3016,157],[1.3022,144],[1.303,157],[1.3038,151],[1.3046,166],[1.3052,151],[1.306,139],[1.3067,144],[1.3076,161],[1.3084,147],[1.3092,137],[1.31,144],[1.3109,141],[1.3117,144],[1.3125,139],[1.3133,144],[1.3141,149],[1.3149,137],[1.3155,139],[1.3161,122]];
const r3R_98S = [[1.24,116],[1.2413,113],[1.2429,114],[1.2446,111],[1.2462,113],[1.2478,111],[1.2495,112],[1.2511,109],[1.2527,113],[1.2543,111],[1.256,108],[1.2576,112],[1.2592,114],[1.2609,113],[1.2625,114],[1.2636,116],[1.2641,121],[1.2652,126],[1.2658,117],[1.2665,125],[1.2676,127],[1.269,131],[1.2701,134],[1.2712,137],[1.2723,136],[1.2734,141],[1.2745,140],[1.2755,142],[1.2766,137],[1.278,141],[1.2793,139],[1.2804,141],[1.2815,141],[1.2826,138],[1.2842,134],[1.2859,132],[1.2875,126],[1.2886,128],[1.2897,124],[1.2908,122],[1.2918,119],[1.2933,113]];
const r3R_pk = [[1.24,72],[1.2404,114],[1.2409,111],[1.2415,116],[1.242,97],[1.2424,71],[1.2429,67],[1.244,64],[1.2451,66],[1.2462,69],[1.2473,72],[1.2484,76],[1.2491,71],[1.25,61],[1.2509,67],[1.2517,56],[1.2526,52],[1.2535,49],[1.2543,66],[1.2554,74],[1.2563,79],[1.2571,71],[1.2578,57],[1.2587,46],[1.2596,64],[1.2603,54],[1.2611,61],[1.262,56],[1.2628,67],[1.2635,76],[1.2641,67],[1.265,71],[1.2658,64],[1.2665,76],[1.2674,82],[1.2683,87],[1.269,97],[1.2698,99],[1.2707,97],[1.2715,101],[1.2726,96],[1.2734,99],[1.2745,92],[1.2752,97],[1.2761,101],[1.277,104],[1.2777,111],[1.2785,102],[1.2793,107],[1.2802,102],[1.281,104],[1.2817,97],[1.2826,101],[1.2837,104],[1.2846,106],[1.2853,97],[1.2861,94],[1.287,96],[1.2878,84],[1.2886,91],[1.2893,81],[1.2902,86],[1.2911,79],[1.2918,91],[1.2926,94],[1.2935,84],[1.2946,81],[1.2957,82],[1.2967,79],[1.2978,81],[1.2989,77],[1.3,81],[1.3011,84],[1.3022,77],[1.3028,76],[1.3035,54],[1.3041,71],[1.3049,74],[1.3057,81],[1.3065,77],[1.3074,91],[1.3082,81],[1.3087,61],[1.3096,71],[1.3103,57],[1.3111,64],[1.312,69],[1.3128,64],[1.3136,71],[1.3143,66],[1.3152,71],[1.3161,76],[1.3168,72],[1.3176,67],[1.3183,57]];
const r3R_eaw = [[1.24,37],[1.2424,37],[1.2446,37],[1.2467,36],[1.2489,37],[1.2511,37],[1.2533,38],[1.2554,36],[1.2576,37],[1.2592,35],[1.2609,32],[1.2625,30],[1.2641,27],[1.2652,31],[1.2663,37],[1.2674,44],[1.269,51],[1.2707,56],[1.2723,58],[1.2739,60],[1.2755,59],[1.2772,59],[1.2788,57],[1.2804,56],[1.282,55],[1.2837,52],[1.2853,49],[1.287,46],[1.2886,42],[1.2902,40],[1.2918,37],[1.2935,36],[1.2957,33],[1.2978,31],[1.3,30],[1.3022,29],[1.3043,28],[1.3065,27],[1.3087,27],[1.3109,26],[1.313,26],[1.3152,25],[1.3174,24],[1.3201,21]];

// ---- helpers -------------------------------------------------------------------
const zip = (wl, fx) => wl.map((w, i) => [w, fx[i]]);

function tickRange(lo, hi, step) {
  const out = [];
  for (let i = Math.ceil(lo / step - 1e-6); i * step <= hi + 1e-9; i++) out.push(+(i * step).toFixed(4));
  return out;
}

const axisPlugin = {
  id: 'specAxes',
  beforeDatasetsDraw(chart, args, o) {
    const { ctx, chartArea: a, scales: { x, y } } = chart;
    ctx.save();
    (o.bands || []).forEach(b => {
      const x0 = x.getPixelForValue(b[0]), x1 = x.getPixelForValue(b[1]);
      ctx.fillStyle = '#a9a9a9';
      ctx.fillRect(x0, a.top, x1 - x0, a.bottom - a.top);
    });
    (o.vlines || []).forEach(v => {
      const px = Math.round(x.getPixelForValue(v.x)) + 0.5;
      const top = v.top == null ? a.top : y.getPixelForValue(v.top);
      ctx.strokeStyle = '#000';
      ctx.lineWidth = 1;
      ctx.setLineDash([1.5, 1.5]);
      ctx.beginPath();
      ctx.moveTo(px, top);
      ctx.lineTo(px, a.bottom);
      ctx.stroke();
    });
    ctx.restore();
  },
  afterDraw(chart, args, o) {
    const { ctx, chartArea: a, scales: { x } } = chart;
    ctx.save();
    ctx.strokeStyle = '#3a3a3a';
    ctx.lineWidth = 1;
    const tick = (vals, len) => {
      ctx.beginPath();
      vals.forEach(v => {
        const px = Math.round(x.getPixelForValue(v)) + 0.5;
        if (px < a.left + 2 || px > a.right - 2) return;
        ctx.moveTo(px, a.bottom); ctx.lineTo(px, a.bottom - len);
        ctx.moveTo(px, a.top); ctx.lineTo(px, a.top + len);
      });
      ctx.stroke();
    };
    tick(o.minor || [], 4);
    tick(o.major || [], 7);
    ctx.lineWidth = 1.6;
    ctx.strokeRect(a.left, a.top, a.right - a.left, a.bottom - a.top);
    if (o.labels) {
      ctx.fillStyle = '#000';
      ctx.font = '22px "DejaVu Serif", serif';
      ctx.textAlign = 'center';
      ctx.textBaseline = 'middle';
      o.major.forEach((v, i) => ctx.fillText(o.labels[i], x.getPixelForValue(v), a.bottom + 16));
    }
    ctx.restore();
  }
};

const PAD = { left: 30, right: 30, top: 10, bottom: 40 };
function addPanel(p) {
  const w = p.box[2] - p.box[0], h = p.box[3] - p.box[1];
  const cv = document.createElement('canvas');
  cv.width = w + PAD.left + PAD.right;
  cv.height = h + PAD.top + PAD.bottom;
  cv.style.left = (p.box[0] - PAD.left) + 'px';
  cv.style.top = (p.box[1] - PAD.top) + 'px';
  document.body.appendChild(cv);
  new Chart(cv, {
    type: 'line',
    data: {
      datasets: p.series.map(s => ({
        data: s.pts.map(q => ({ x: q[0], y: q[1] })),
        borderColor: s.color,
        borderWidth: s.lw || 1.1,
        pointRadius: 0,
        fill: false,
        tension: 0,
        spanGaps: false
      }))
    },
    options: {
      responsive: false,
      animation: false,
      events: [],
      layout: { padding: PAD },
      plugins: {
        legend: { display: false },
        tooltip: { enabled: false },
        specAxes: { major: p.major, minor: p.minor, labels: p.labels, bands: p.bands, vlines: p.vlines }
      },
      scales: {
        x: { type: 'linear', min: p.xr[0], max: p.xr[1], display: false },
        y: { type: 'linear', min: p.yr[0], max: p.yr[1], display: false }
      }
    },
    plugins: [axisPlugin]
  });
}

// ---- panel layout --------------------------------------------------------------
const COL = { L: [41, 819], M: [821, 1079], R: [1081, 1339] };
const ROW = { 1: [43, 357], 2: [357, 678], 3: [710, 1029] };
const XR = { L: [0.297, 2.789], M: [0.6098, 0.69], R: [1.0096, 1.3403], R3: [1.2398, 1.3201] };
const YR = { 1: [0, 314], 2: [0, 321], 3: [0, 319] };
const tk = {
  L: { major: optMajor, minor: tickRange(0.3, 2.78, 0.05) },
  M: { major: haMajor, minor: tickRange(0.61, 0.69, 0.005) },
  R: { major: irMajor, minor: tickRange(1.025, 1.34, 0.025) },
  R3: { major: pbMajor, minor: tickRange(1.24, 1.32, 0.01) }
};
const box = (c, r) => [COL[c][0], ROW[r][0], COL[c][1], ROW[r][1]];

const panels = [
  { box: box('L', 1), xr: XR.L, yr: YR[1], ...tk.L, bands: telluricBands,
    series: [{ pts: r1L_aj, color: BLUE, lw: 1.3 }, { pts: r1L_98S, color: GREEN, lw: 1.2 }, { pts: r1L_eaw, color: MAG, lw: 1.6 }] },
  { box: box('M', 1), xr: XR.M, yr: YR[1], ...tk.M, vlines: [{ x: H_ALPHA }],
    series: [{ pts: r1M_aj, color: BLUE }, { pts: r1M_98S, color: GREEN }, { pts: r1M_eaw, color: MAG }] },
  { box: box('R', 1), xr: XR.R, yr: YR[1], ...tk.R, vlines: [{ x: P_BETA }],
    series: [{ pts: r1R_aj, color: BLUE }, { pts: r1R_98S, color: GREEN }, { pts: r1R_eaw, color: MAG, lw: 2.4 }] },

  { box: box('L', 2), xr: XR.L, yr: YR[2], ...tk.L, labels: optLabels, bands: telluricBands,
    series: [{ pts: r2L_aj, color: BLUE, lw: 1.3 }, { pts: r2L_da, color: GRAY, lw: 1.2 }, { pts: r2L_eaw, color: MAG, lw: 1.5 }] },
  { box: box('M', 2), xr: XR.M, yr: YR[2], ...tk.M, labels: haLabels, vlines: [{ x: H_ALPHA }],
    series: [{ pts: r2M_aj, color: BLUE }, { pts: zip(r2M_da_wl, r2M_da_fx), color: GRAY }, { pts: zip(r2M_eaw_wl, r2M_eaw_fx), color: MAG }] },
  { box: box('R', 2), xr: XR.R, yr: YR[2], ...tk.R, labels: irLabels, vlines: [{ x: P_BETA }],
    series: [{ pts: zip(r2R_aj_wl, r2R_aj_fx), color: BLUE, lw: 1.4 }, { pts: r2R_da, color: GRAY }, { pts: zip(r2R_eaw_wl, r2R_eaw_fx), color: MAG, lw: 2.4 }] },

  { box: box('L', 3), xr: XR.L, yr: YR[3], ...tk.L, labels: optLabels, bands: telluricBands,
    series: [
      { pts: zip(r3L_aj_wl, r3L_aj_fx), color: BLUE },
      { pts: zip(r3L_jl_wl, r3L_jl_fx), color: GRAY },
      { pts: zip(r3L_fc_wl, r3L_fc_fx), color: GREEN, lw: 1.4 },
      { pts: zip(r3L_98S_wl, r3L_98S_fx), color: GREEN },
      { pts: zip(r3L_pk_wl, r3L_pk_fx), color: GREEN },
      { pts: zip(r3L_eaw_wl, r3L_eaw_fx), color: MAG, lw: 1.4 }] },
  { box: box('M', 3), xr: XR.M, yr: YR[3], ...tk.M, labels: haLabels, vlines: [{ x: H_ALPHA }],
    series: [
      { pts: zip(r3M_aj_wl, r3M_aj_fx), color: BLUE },
      { pts: zip(r3M_jl_wl, r3M_jl_fx), color: GRAY },
      { pts: zip(r3M_fc_wl, r3M_fc_fx), color: GREEN },
      { pts: zip(r3M_98S_wl, r3M_98S_fx), color: GREEN },
      { pts: zip(r3M_pk_wl, r3M_pk_fx), color: GREEN },
      { pts: zip(r3M_eaw_wl, r3M_eaw_fx), color: MAG }] },
  { box: [COL.R[0], ROW[3][0], COL.R[1], ROW[3][1]], xr: XR.R3, yr: YR[3], ...tk.R3, labels: pbLabels, vlines: [{ x: P_BETA, top: 304 }],
    series: [
      { pts: r3R_aj, color: BLUE },
      { pts: zip(r3R_jl_wl, r3R_jl_fx), color: GRAY },
      { pts: r3R_fc, color: GREEN },
      { pts: r3R_98S, color: GREEN },
      { pts: r3R_pk, color: GREEN },
      { pts: r3R_eaw, color: MAG }] }
];
panels.forEach(addPanel);

// ---- legend ------------------------------------------------------------------------
const legend = document.getElementById('legend');
const legendX = [[3, 74, 79], [381, 452, 457], [701, 770, 773], [1048, 1121, 1123]];
legendLabels.forEach((lab, i) => {
  const [a, b, t] = legendX[i];
  const ln = document.createElement('div');
  ln.className = 'lline';
  ln.style.left = a + 'px'; ln.style.width = (b - a) + 'px'; ln.style.background = legendColors[i];
  legend.appendChild(ln);
  const tx = document.createElement('div');
  tx.className = 't';
  tx.style.left = t + 'px'; tx.style.top = '4px';
  tx.textContent = lab;
  legend.appendChild(tx);
});
</script>
</body>
</html>
